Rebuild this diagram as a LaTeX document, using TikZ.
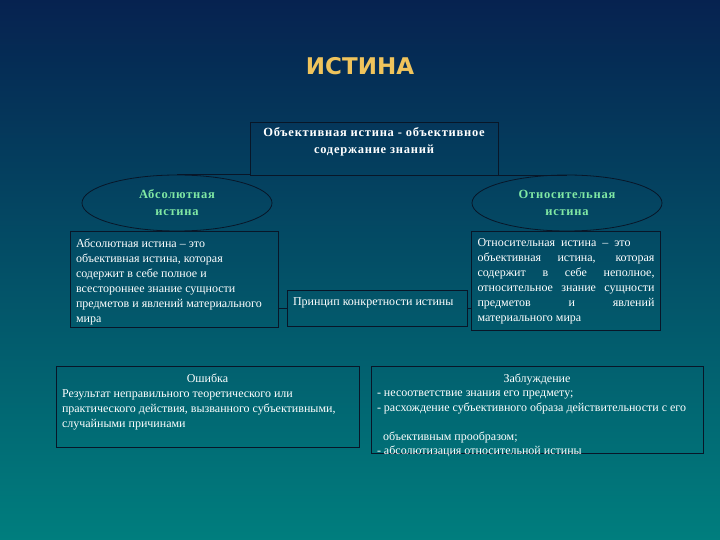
\documentclass[tikz,border=0pt]{standalone}
\usepackage{fontspec}
\setmainfont{Liberation Serif}
\newfontfamily\titlefont{DejaVu Sans}
\newfontfamily\headfont[LetterSpace=6]{Liberation Serif}
\usetikzlibrary{shapes.geometric, calc}

\definecolor{bgtop}{RGB}{6,34,80}
\definecolor{bgmid}{RGB}{0,82,110}
\definecolor{bgbot}{RGB}{0,126,126}
\definecolor{boxline}{RGB}{8,22,40}
\definecolor{gold}{RGB}{240,196,92}
\definecolor{mint}{RGB}{128,232,164}

\tikzset{
  frame/.style={draw=boxline, line width=0.8pt, inner xsep=6pt, inner ysep=5pt,
    text=white, font=\fontsize{12}{15}\selectfont},
  oval/.style={ellipse, draw=boxline, line width=0.8pt, inner sep=0pt,
    minimum width=190pt, minimum height=56pt, align=center, text=mint,
    font=\headfont\bfseries\fontsize{12.5}{17}\selectfont},
  link/.style={draw=boxline, line width=0.8pt}
}

\begin{document}
\begin{tikzpicture}[x=1pt, y=-1pt]

% background
\shade[top color=bgtop, middle color=bgmid, bottom color=bgbot] (0,0) rectangle (720,540);

\node[font=\titlefont\bfseries\fontsize{23}{27}\selectfont, text=gold] (title) at (360,66) {ИСТИНА};

\node[frame] (top) at (374,148.5)
  {\parbox[c][43pt][t]{236pt}{\centering\headfont\bfseries\fontsize{12.5}{17}\selectfont
   \vspace*{1pt}Объективная истина - объективное\\ содержание знаний}};

\node[oval] (absEll) at (177,203) {Абсолютная\\истина};
\node[oval] (relEll) at (567,203) {Относительная\\истина};

% definitions
\node[frame] (absBox) at (174,279) {\parbox[c][86pt][t]{196pt}{\raggedright
  \vspace*{3pt}Абсолютная истина – это\\
  объективная истина, которая\\
  содержит в себе полное и\\
  всестороннее знание сущности\\
  предметов и явлений материального\\
  мира}};

\node[frame] (relBox) at (566,280.5) {\parbox[c][89pt][t]{177pt}{
  \vspace*{3pt}Относительная\ \ истина\ \ –\ \ это\\
  объективная истина, которая\linebreak
  содержит в себе неполное,\linebreak
  относительное знание сущности\linebreak
  предметов и явлений\linebreak
  материального мира}};

\node[frame] (princ) at (377,308) {\parbox[c][26pt][t]{168pt}{\raggedright
  \vspace*{3pt}Принцип конкретности истины}};

% errors
\node[frame] (err) at (207.5,406.5) {\parbox[c][71pt][t]{291pt}{
  \vspace*{3pt}{\centering Ошибка\par}\raggedright
  Результат неправильного теоретического или\\
  практического действия, вызванного субъективными,\\
  случайными причинами}};

\node[frame] (delus) at (537,409.5) {\parbox[c][77pt][t]{320pt}{\fontsize{12}{14.3}\selectfont
  \vspace*{3pt}{\centering Заблуждение\par}\raggedright
  - несоответствие знания его предмету;\\
  - расхождение субъективного образа действительности с его\\[15pt]
  \hspace*{6pt}объективным прообразом;\\
  - абсолютизация относительной истины}};

\draw[link] (absEll.north) -- (absEll.north -| top.south west);
\draw[link] (top.south east) -- (top.south east -| relEll.north);
\draw[link] (princ.west) -- (princ.west -| absBox.east);
\draw[link] (princ.east) -- (princ.east -| relBox.west);

\end{tikzpicture}
\end{document}
